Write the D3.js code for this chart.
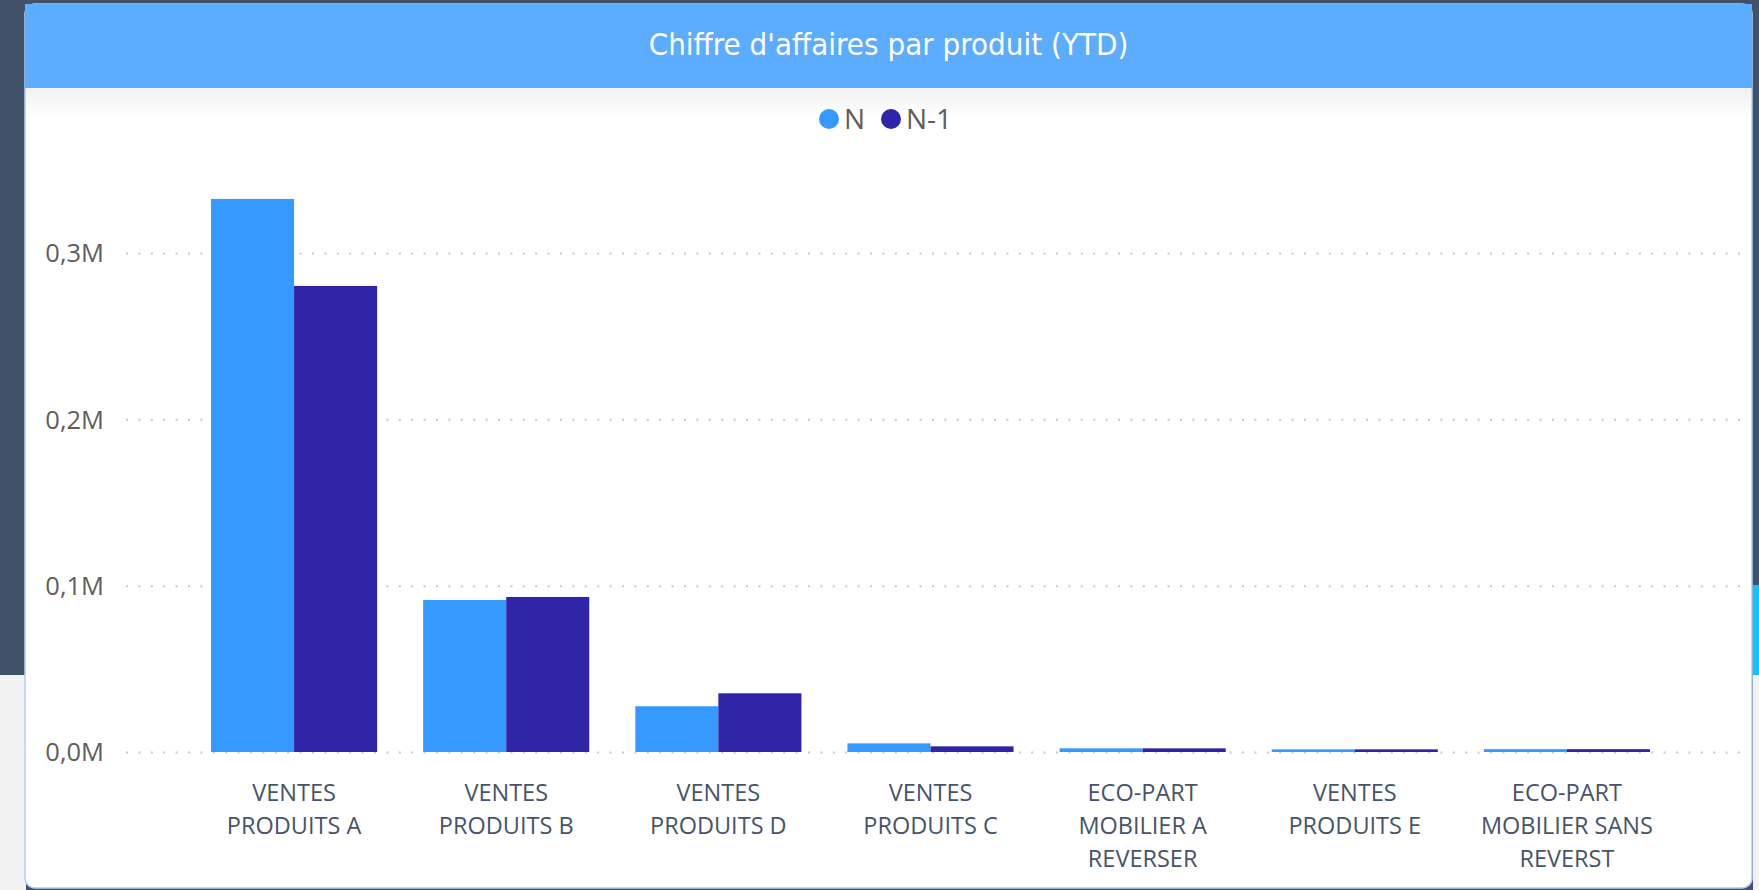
<!DOCTYPE html>
<meta charset="utf-8">
<style>
body { margin: 0; background: #415168; }
svg { display: block; }
.title { font: 31px "DejaVu Sans Condensed", "DejaVu Sans"; font-stretch: condensed; fill: #fff; }
.legend_text { font: 28px "Open Sans"; fill: #605e5c; }
.y_label { font: 25.5px "Open Sans"; fill: #605e5c; }
.x_label { font: 23.5px "Open Sans"; fill: #475469; }
</style>
<svg width="1759" height="890"></svg>
<script src="https://d3js.org/d3.v7.min.js"></script>
<script>

var categories = [
  ["VENTES", "PRODUITS A"],
  ["VENTES", "PRODUITS B"],
  ["VENTES", "PRODUITS D"],
  ["VENTES", "PRODUITS C"],
  ["ECO-PART", "MOBILIER A", "REVERSER"],
  ["VENTES", "PRODUITS E"],
  ["ECO-PART", "MOBILIER SANS", "REVERST"]
];
var seriesNames = ["N", "N-1"];
// values in millions
var valuesN = [0.3325, 0.0914, 0.0275, 0.0052, 0.0022, 0.0016, 0.0017];
var valuesN1 = [0.2802, 0.0932, 0.0353, 0.0034, 0.0022, 0.0016, 0.0017];
var yTicks = [0, 0.1, 0.2, 0.3];
var colors = ["#3599ff", "#3024a8"];

var svg = d3.select("svg"),
    W = +svg.attr("width"),
    H = +svg.attr("height");

// page chrome around the visual
svg.append("rect").attr("width", W).attr("height", H).attr("fill", "#415168");
svg.append("rect").attr("x", 0).attr("y", 675).attr("width", 26).attr("height", H - 675).attr("fill", "#f2f2f2");
svg.append("rect").attr("x", 1753).attr("y", 585).attr("width", 6).attr("height", 90).attr("fill", "#12c1f7");
svg.append("rect").attr("x", 1753).attr("y", 675).attr("width", 6).attr("height", H - 675).attr("fill", "#f2f2f2");

var panel = {x: 25, y: 4, w: 1727, h: 884};

svg.append("rect")
    .attr("x", panel.x).attr("y", panel.y)
    .attr("width", panel.w).attr("height", panel.h)
    .attr("rx", 10)
    .attr("fill", "#fff")
    .attr("stroke", "#a9d1fa")
    .attr("stroke-width", 1.5);

var defs = svg.append("defs");
var grad = defs.append("linearGradient").attr("id", "shade").attr("x1", 0).attr("y1", 0).attr("x2", 0).attr("y2", 1);
grad.append("stop").attr("offset", 0).attr("stop-color", "#f1f1f1");
grad.append("stop").attr("offset", 1).attr("stop-color", "#fff");

svg.append("rect")
    .attr("x", panel.x + 1).attr("y", 88)
    .attr("width", panel.w - 2).attr("height", 30)
    .attr("fill", "url(#shade)");

svg.append("rect")
    .attr("x", panel.x).attr("y", panel.y)
    .attr("width", panel.w).attr("height", 84)
    .attr("fill", "#5cacff");

svg.append("text")
    .attr("class", "title")
    .attr("x", panel.x + panel.w / 2)
    .attr("y", 46)
    .attr("text-anchor", "middle")
    .attr("dominant-baseline", "middle")
    .text("Chiffre d'affaires par produit (YTD)");

// legend
var legendX = [829, 891];
seriesNames.forEach(function(name, i) {
  svg.append("circle")
      .attr("cx", legendX[i]).attr("cy", 119).attr("r", 10)
      .attr("fill", colors[i]);
  svg.append("text")
      .attr("class", "legend_text")
      .attr("x", legendX[i] + 15)
      .attr("y", 129)
      .text(name);
});

// scales
var x0 = d3.scaleBand()
    .domain(d3.range(categories.length))
    .range([188, 1673])
    .paddingInner(0.217)
    .paddingOuter(0.1085);

var x1 = d3.scaleBand()
    .domain(seriesNames)
    .range([0, x0.bandwidth()]);

var y = d3.scaleLinear()
    .domain([0, 0.3])
    .range([752, 253]);

// dotted gridlines
var grid = svg.append("g");
grid.selectAll("line")
  .data(yTicks)
  .enter().append("line")
    .attr("x1", 126).attr("x2", 1740)
    .attr("y1", function(d) { return y(d) + 0.5; })
    .attr("y2", function(d) { return y(d) + 0.5; })
    .attr("stroke", "#c8c8c8")
    .attr("stroke-width", 2)
    .attr("stroke-dasharray", "2,10.4");

var yAxis = svg.append("g")
    .attr("transform", "translate(104,0)")
    .call(d3.axisLeft(y).tickValues(yTicks).tickSize(0).tickPadding(0)
      .tickFormat(function(d) { return d.toFixed(1).replace(".", ",") + "M"; }));
yAxis.select(".domain").remove();
yAxis.selectAll("text")
    .attr("class", "y_label")
    .attr("font-family", null)
    .attr("font-size", null)
    .attr("fill", null)
    .attr("dy", "0.35em");

// bars
var groups = svg.append("g").selectAll("g")
  .data(categories.map(function(c, i) { return [valuesN[i], valuesN1[i]]; }))
  .enter().append("g")
    .attr("transform", function(d, i) { return "translate(" + x0(i) + ",0)"; });

groups.selectAll("rect")
  .data(function(d) { return d; })
  .enter().append("rect")
    .attr("x", function(d, j) { return x1(seriesNames[j]); })
    .attr("y", function(d) { return y(d); })
    .attr("width", x1.bandwidth())
    .attr("height", function(d) { return y(0) - y(d); })
    .attr("fill", function(d, j) { return colors[j]; });

// category labels
var labels = svg.append("g").selectAll("text")
  .data(categories)
  .enter().append("text")
    .attr("class", "x_label")
    .attr("text-anchor", "middle")
    .attr("x", function(d, i) { return x0(i) + x0.bandwidth() / 2; })
    .attr("y", 801);

labels.selectAll("tspan")
  .data(function(d) { return d; })
  .enter().append("tspan")
    .attr("x", function() { return d3.select(this.parentNode).attr("x"); })
    .attr("dy", function(d, k) { return k === 0 ? 0 : 33; })
    .text(function(d) { return d; });

</script>
